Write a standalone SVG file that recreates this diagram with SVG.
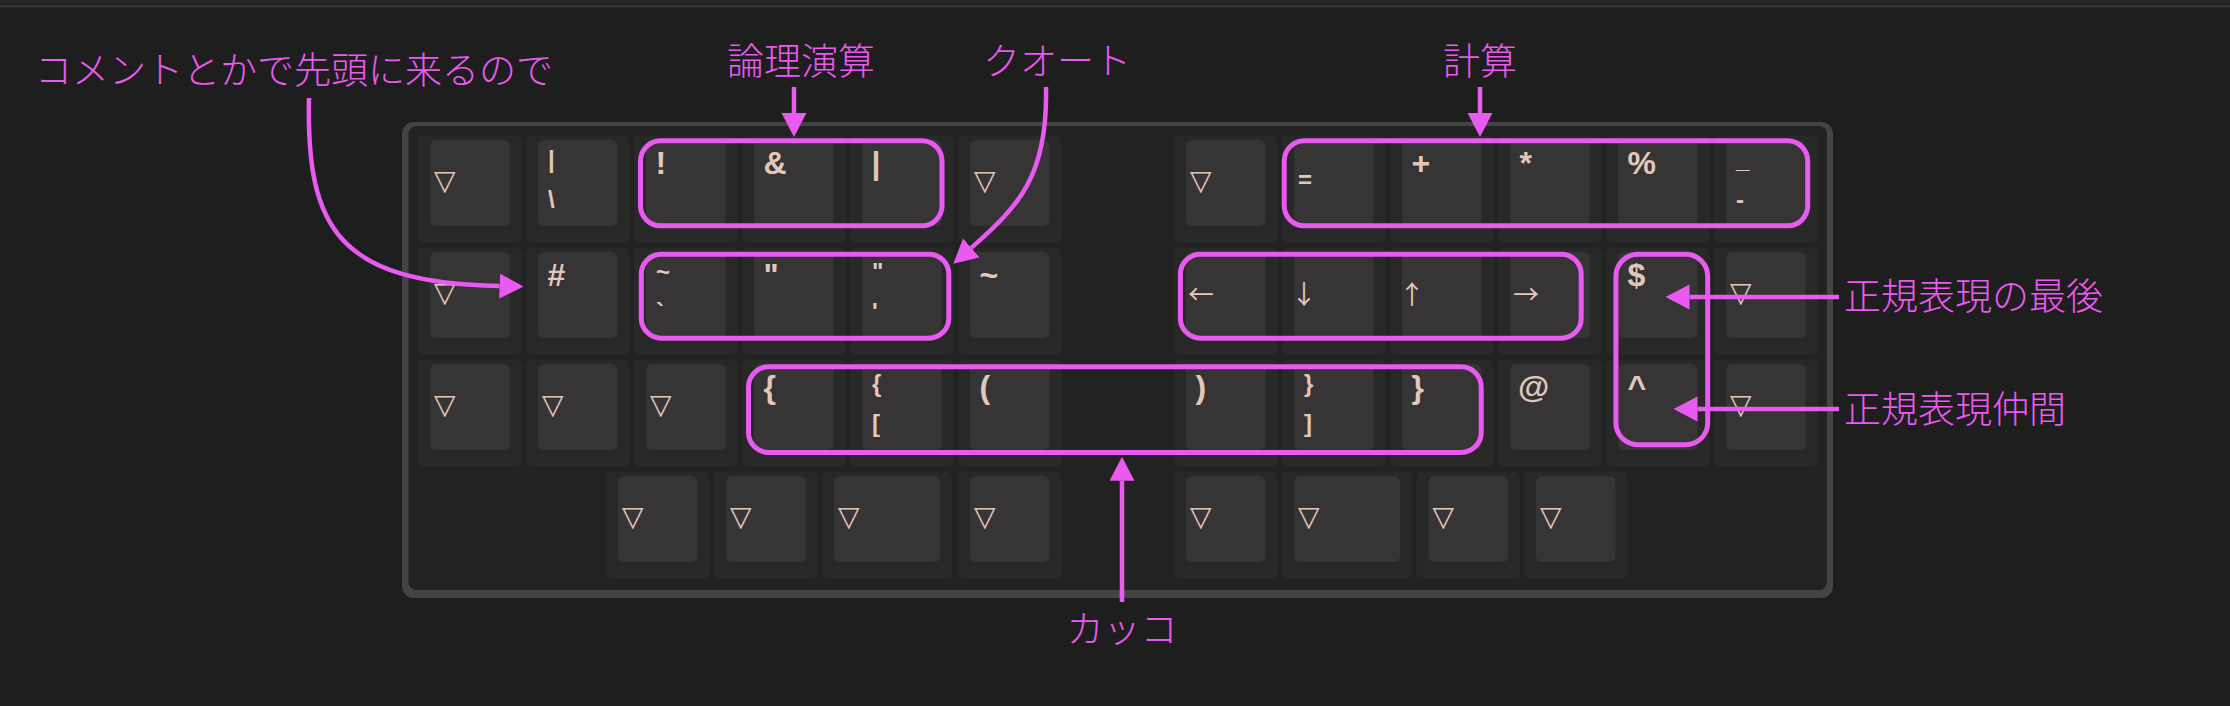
<svg xmlns="http://www.w3.org/2000/svg" width="2230" height="706" viewBox="0 0 2230 706">
<style>
.cell{fill:#282828}
.cap{fill:#363435}
.lg{font-family:"Liberation Sans",Arial,sans-serif;font-weight:bold;fill:#e2c8ba}
.big{font-size:32px}
.sm{font-size:24px}
.sym{font-family:"DejaVu Sans",sans-serif;font-weight:normal;font-size:28px;fill:#e2c8ba}
.ar{font-family:"Noto Sans CJK JP","Noto Sans CJK SC",sans-serif;font-weight:normal;font-size:26px;fill:#e2c8ba}
.grp{fill:none;stroke:#e85af0;stroke-width:5}
.conn{fill:none;stroke:#e85af0;stroke-width:4.5}
.lbl{font-family:"Noto Sans CJK JP","Noto Sans CJK SC",sans-serif;font-weight:300;font-size:37px;fill:#e85af0}
</style>
<defs>
<marker id="ah" markerUnits="userSpaceOnUse" markerWidth="26" markerHeight="26" refX="0" refY="12.5" orient="auto" viewBox="0 0 26 26">
<path d="M0,0 L24,12.5 L0,25 Z" fill="#e85af0"/>
</marker>
</defs>
<rect x="0" y="0" width="2230" height="706" fill="#1e1e1e"/>
<rect x="0" y="0" width="2230" height="6" fill="#252525"/>
<line x1="0" y1="6.5" x2="2230" y2="6.5" stroke="#3d3d3d" stroke-width="1.5"/>
<g id="keyboard">
<rect x="402" y="122" width="1431" height="476" rx="12" fill="#444444"/>
<rect x="408.5" y="126" width="1418.5" height="464" rx="8" fill="#222222"/>
</g>
<!-- Row 0 -->
<g id="k-0-0"><rect class="cell" x="418" y="136" width="103.5" height="107" rx="5"/><rect class="cap" x="430" y="140" width="79.5" height="86" rx="6"/><text class="sym" x="434" y="189.5">▽</text></g>
<g id="k-0-1"><rect class="cell" x="526" y="136" width="103.5" height="107" rx="5"/><rect class="cap" x="538" y="140" width="79.5" height="86" rx="6"/><text class="lg sm" x="548" y="168">|</text><text class="lg sm" x="548" y="208">\</text></g>
<g id="k-0-2"><rect class="cell" x="634" y="136" width="103.5" height="107" rx="5"/><rect class="cap" x="646" y="140" width="79.5" height="86" rx="6"/><text class="lg big" x="655.5" y="174">!</text></g>
<g id="k-0-3"><rect class="cell" x="742" y="136" width="103.5" height="107" rx="5"/><rect class="cap" x="754" y="140" width="79.5" height="86" rx="6"/><text class="lg big" x="763.5" y="174">&amp;</text></g>
<g id="k-0-4"><rect class="cell" x="850" y="136" width="103.5" height="107" rx="5"/><rect class="cap" x="862" y="140" width="79.5" height="86" rx="6"/><text class="lg big" x="871.5" y="174">|</text></g>
<g id="k-0-5"><rect class="cell" x="958" y="136" width="103.5" height="107" rx="5"/><rect class="cap" x="970" y="140" width="79.5" height="86" rx="6"/><text class="sym" x="974" y="189.5">▽</text></g>
<g id="k-0-7"><rect class="cell" x="1174" y="136" width="103.5" height="107" rx="5"/><rect class="cap" x="1186" y="140" width="79.5" height="86" rx="6"/><text class="sym" x="1190" y="189.5">▽</text></g>
<g id="k-0-8"><rect class="cell" x="1282" y="136" width="103.5" height="107" rx="5"/><rect class="cap" x="1294" y="140" width="79.5" height="86" rx="6"/><text class="lg sm" x="1298" y="188">=</text></g>
<g id="k-0-9"><rect class="cell" x="1390" y="136" width="103.5" height="107" rx="5"/><rect class="cap" x="1402" y="140" width="79.5" height="86" rx="6"/><text class="lg big" x="1411.5" y="174">+</text></g>
<g id="k-0-10"><rect class="cell" x="1498" y="136" width="103.5" height="107" rx="5"/><rect class="cap" x="1510" y="140" width="79.5" height="86" rx="6"/><text class="lg big" x="1519.5" y="174">*</text></g>
<g id="k-0-11"><rect class="cell" x="1606" y="136" width="103.5" height="107" rx="5"/><rect class="cap" x="1618" y="140" width="79.5" height="86" rx="6"/><text class="lg big" x="1627.5" y="174">%</text></g>
<g id="k-0-12"><rect class="cell" x="1714" y="136" width="103.5" height="107" rx="5"/><rect class="cap" x="1726" y="140" width="79.5" height="86" rx="6"/><text class="lg sm" x="1736" y="168">_</text><text class="lg sm" x="1736" y="208">-</text></g>
<!-- Row 1 -->
<g id="k-1-0"><rect class="cell" x="418" y="248" width="103.5" height="107" rx="5"/><rect class="cap" x="430" y="252" width="79.5" height="86" rx="6"/><text class="sym" x="434" y="301.5">▽</text></g>
<g id="k-1-1"><rect class="cell" x="526" y="248" width="103.5" height="107" rx="5"/><rect class="cap" x="538" y="252" width="79.5" height="86" rx="6"/><text class="lg big" x="547.5" y="286">#</text></g>
<g id="k-1-2"><rect class="cell" x="634" y="248" width="103.5" height="107" rx="5"/><rect class="cap" x="646" y="252" width="79.5" height="86" rx="6"/><text class="lg sm" x="656" y="280">~</text><text class="lg sm" x="656" y="320">`</text></g>
<g id="k-1-3"><rect class="cell" x="742" y="248" width="103.5" height="107" rx="5"/><rect class="cap" x="754" y="252" width="79.5" height="86" rx="6"/><text class="lg big" x="763.5" y="286">"</text></g>
<g id="k-1-4"><rect class="cell" x="850" y="248" width="103.5" height="107" rx="5"/><rect class="cap" x="862" y="252" width="79.5" height="86" rx="6"/><text class="lg sm" x="872" y="280">"</text><text class="lg sm" x="872" y="320">'</text></g>
<g id="k-1-5"><rect class="cell" x="958" y="248" width="103.5" height="107" rx="5"/><rect class="cap" x="970" y="252" width="79.5" height="86" rx="6"/><text class="lg big" x="979.5" y="286">~</text></g>
<g id="k-1-7"><rect class="cell" x="1174" y="248" width="103.5" height="107" rx="5"/><rect class="cap" x="1186" y="252" width="79.5" height="86" rx="6"/><text class="ar" x="1188" y="303.5">←</text></g>
<g id="k-1-8"><rect class="cell" x="1282" y="248" width="103.5" height="107" rx="5"/><rect class="cap" x="1294" y="252" width="79.5" height="86" rx="6"/><text class="ar" x="1291" y="303.5">↓</text></g>
<g id="k-1-9"><rect class="cell" x="1390" y="248" width="103.5" height="107" rx="5"/><rect class="cap" x="1402" y="252" width="79.5" height="86" rx="6"/><text class="ar" x="1399" y="303.5">↑</text></g>
<g id="k-1-10"><rect class="cell" x="1498" y="248" width="103.5" height="107" rx="5"/><rect class="cap" x="1510" y="252" width="79.5" height="86" rx="6"/><text class="ar" x="1513" y="303.5">→</text></g>
<g id="k-1-11"><rect class="cell" x="1606" y="248" width="103.5" height="107" rx="5"/><rect class="cap" x="1618" y="252" width="79.5" height="86" rx="6"/><text class="lg big" x="1627.5" y="286">$</text></g>
<g id="k-1-12"><rect class="cell" x="1714" y="248" width="103.5" height="107" rx="5"/><rect class="cap" x="1726" y="252" width="79.5" height="86" rx="6"/><text class="sym" x="1730" y="301.5">▽</text></g>
<!-- Row 2 -->
<g id="k-2-0"><rect class="cell" x="418" y="360" width="103.5" height="107" rx="5"/><rect class="cap" x="430" y="364" width="79.5" height="86" rx="6"/><text class="sym" x="434" y="413.5">▽</text></g>
<g id="k-2-1"><rect class="cell" x="526" y="360" width="103.5" height="107" rx="5"/><rect class="cap" x="538" y="364" width="79.5" height="86" rx="6"/><text class="sym" x="542" y="413.5">▽</text></g>
<g id="k-2-2"><rect class="cell" x="634" y="360" width="103.5" height="107" rx="5"/><rect class="cap" x="646" y="364" width="79.5" height="86" rx="6"/><text class="sym" x="650" y="413.5">▽</text></g>
<g id="k-2-3"><rect class="cell" x="742" y="360" width="103.5" height="107" rx="5"/><rect class="cap" x="754" y="364" width="79.5" height="86" rx="6"/><text class="lg big" x="763.5" y="398">{</text></g>
<g id="k-2-4"><rect class="cell" x="850" y="360" width="103.5" height="107" rx="5"/><rect class="cap" x="862" y="364" width="79.5" height="86" rx="6"/><text class="lg sm" x="872" y="392">{</text><text class="lg sm" x="872" y="432">[</text></g>
<g id="k-2-5"><rect class="cell" x="958" y="360" width="103.5" height="107" rx="5"/><rect class="cap" x="970" y="364" width="79.5" height="86" rx="6"/><text class="lg big" x="979.5" y="398">(</text></g>
<g id="k-2-7"><rect class="cell" x="1174" y="360" width="103.5" height="107" rx="5"/><rect class="cap" x="1186" y="364" width="79.5" height="86" rx="6"/><text class="lg big" x="1195.5" y="398">)</text></g>
<g id="k-2-8"><rect class="cell" x="1282" y="360" width="103.5" height="107" rx="5"/><rect class="cap" x="1294" y="364" width="79.5" height="86" rx="6"/><text class="lg sm" x="1304" y="392">}</text><text class="lg sm" x="1304" y="432">]</text></g>
<g id="k-2-9"><rect class="cell" x="1390" y="360" width="103.5" height="107" rx="5"/><rect class="cap" x="1402" y="364" width="79.5" height="86" rx="6"/><text class="lg big" x="1411.5" y="398">}</text></g>
<g id="k-2-10"><rect class="cell" x="1498" y="360" width="103.5" height="107" rx="5"/><rect class="cap" x="1510" y="364" width="79.5" height="86" rx="6"/><text class="lg big" x="1518" y="398">@</text></g>
<g id="k-2-11"><rect class="cell" x="1606" y="360" width="103.5" height="107" rx="5"/><rect class="cap" x="1618" y="364" width="79.5" height="86" rx="6"/><text class="lg big" x="1627.5" y="398">^</text></g>
<g id="k-2-12"><rect class="cell" x="1714" y="360" width="103.5" height="107" rx="5"/><rect class="cap" x="1726" y="364" width="79.5" height="86" rx="6"/><text class="sym" x="1730" y="413.5">▽</text></g>
<!-- Row 3 -->
<g id="k-3-0"><rect class="cell" x="606" y="472" width="103.5" height="107" rx="5"/><rect class="cap" x="618" y="476" width="79.5" height="86" rx="6"/><text class="sym" x="622" y="525.5">▽</text></g>
<g id="k-3-1"><rect class="cell" x="714" y="472" width="103.5" height="107" rx="5"/><rect class="cap" x="726" y="476" width="79.5" height="86" rx="6"/><text class="sym" x="730" y="525.5">▽</text></g>
<g id="k-3-2"><rect class="cell" x="822" y="472" width="130" height="107" rx="5"/><rect class="cap" x="834" y="476" width="106" height="86" rx="6"/><text class="sym" x="838" y="525.5">▽</text></g>
<g id="k-3-3"><rect class="cell" x="958" y="472" width="103.5" height="107" rx="5"/><rect class="cap" x="970" y="476" width="79.5" height="86" rx="6"/><text class="sym" x="974" y="525.5">▽</text></g>
<g id="k-3-4"><rect class="cell" x="1174" y="472" width="103.5" height="107" rx="5"/><rect class="cap" x="1186" y="476" width="79.5" height="86" rx="6"/><text class="sym" x="1190" y="525.5">▽</text></g>
<g id="k-3-5"><rect class="cell" x="1282" y="472" width="130" height="107" rx="5"/><rect class="cap" x="1294" y="476" width="106" height="86" rx="6"/><text class="sym" x="1298" y="525.5">▽</text></g>
<g id="k-3-6"><rect class="cell" x="1416.5" y="472" width="103.5" height="107" rx="5"/><rect class="cap" x="1428.5" y="476" width="79.5" height="86" rx="6"/><text class="sym" x="1432.5" y="525.5">▽</text></g>
<g id="k-3-7"><rect class="cell" x="1524" y="472" width="103.5" height="107" rx="5"/><rect class="cap" x="1536" y="476" width="79.5" height="86" rx="6"/><text class="sym" x="1540" y="525.5">▽</text></g>
<!-- Groups -->
<g id="grp-logic"><rect class="grp" x="640.5" y="140.8" width="301.5" height="85" rx="20"/></g>
<g id="grp-quote"><rect class="grp" x="641.3" y="254.2" width="307.5" height="84" rx="20"/></g>
<g id="grp-calc"><rect class="grp" x="1284.2" y="140.8" width="523.5" height="85" rx="20"/></g>
<g id="grp-arrows"><rect class="grp" x="1180.4" y="254.2" width="400.8" height="84" rx="20"/></g>
<g id="grp-regex"><rect class="grp" x="1615.9" y="254.2" width="91.8" height="190.6" rx="22"/></g>
<g id="grp-brackets"><rect class="grp" x="748.5" y="366.8" width="732.7" height="85.6" rx="20"/></g>
<!-- Labels -->
<g id="lbl-comment"><text class="lbl" x="35" y="84">コメントとかで先頭に来るので</text></g>
<g id="lbl-logic"><text class="lbl" x="801" y="75" text-anchor="middle">論理演算</text></g>
<g id="lbl-quote"><text class="lbl" x="1057" y="75" text-anchor="middle">クオート</text></g>
<g id="lbl-calc"><text class="lbl" x="1480" y="75" text-anchor="middle">計算</text></g>
<g id="lbl-regex-end"><text class="lbl" x="1844" y="310">正規表現の最後</text></g>
<g id="lbl-regex-mid"><text class="lbl" x="1844" y="423">正規表現仲間</text></g>
<g id="lbl-brackets"><text class="lbl" x="1122" y="643" text-anchor="middle">カッコ</text></g>
<!-- Connectors -->
<g id="connectors">
<path class="conn" d="M309 98 C306 230 340 283 499.5 286" marker-end="url(#ah)"/>
<path class="conn" d="M794 87 L794 113" marker-end="url(#ah)"/>
<path class="conn" d="M1046 87 C1048 175 1020 205 971.3 247.9" marker-end="url(#ah)"/>
<path class="conn" d="M1480 87 L1480 113" marker-end="url(#ah)"/>
<path class="conn" d="M1839 297 L1689.5 297" marker-end="url(#ah)"/>
<path class="conn" d="M1839 409 L1697.5 409" marker-end="url(#ah)"/>
<path class="conn" d="M1122 602 L1122 480.7" marker-end="url(#ah)"/>
</g>
</svg>
